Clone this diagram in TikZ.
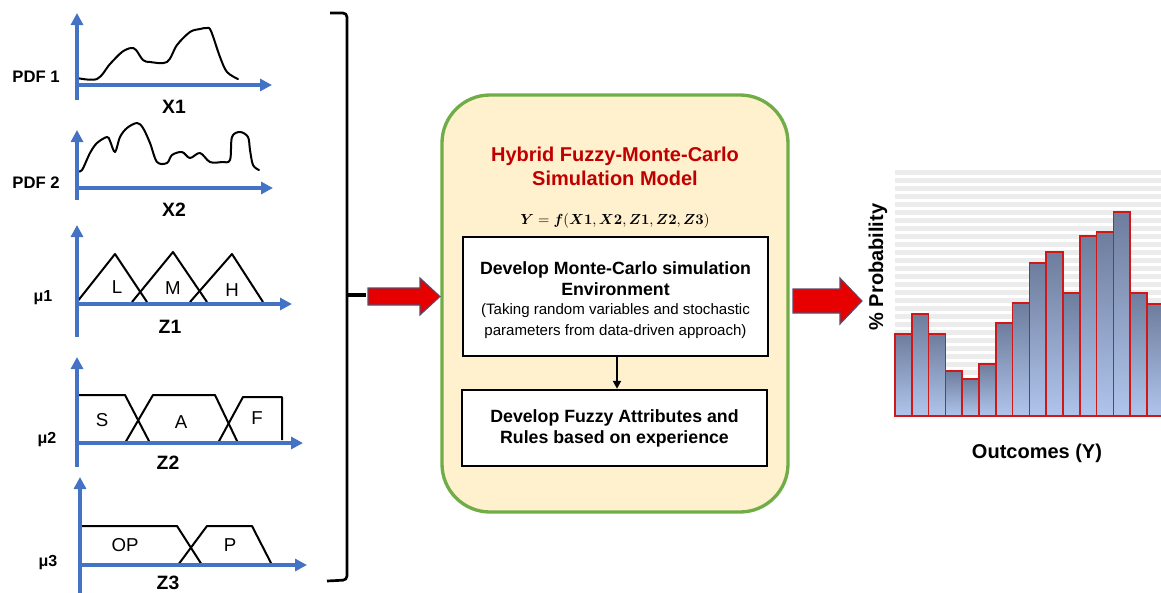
\documentclass[tikz,border=0pt]{standalone}
\usepackage[no-math]{fontspec}
\setmainfont{Liberation Sans}
\usepackage{bm}
\usetikzlibrary{arrows.meta}
\definecolor{axblue}{HTML}{4472C4}
\definecolor{boxgreen}{HTML}{70AD47}
\definecolor{boxfill}{HTML}{FFF0CE}
\definecolor{titlered}{HTML}{C00000}
\definecolor{arrred}{HTML}{E60000}
\definecolor{arredge}{HTML}{5A4A6E}
\definecolor{barred}{HTML}{D01818}
\definecolor{stripe}{HTML}{ECECEC}
\definecolor{bartop}{HTML}{6E7D9D}
\definecolor{barbot}{HTML}{B0C5EC}
\begin{document}
\begin{tikzpicture}[x=0.75pt,y=-0.75pt,
  blueaxis/.style={draw=axblue, line width=3pt, -{Triangle[length=9pt,width=9pt]}},
  curveline/.style={line width=1.5pt, line join=round, line cap=round},
  ylbl/.style={font=\fontsize{12.5}{14}\selectfont\bfseries, inner sep=0},
  mulbl/.style={font=\fontsize{12}{14}\selectfont\bfseries, inner sep=0},
  xlbl/.style={font=\fontsize{14.5}{16}\selectfont\bfseries, inner sep=0},
  setlbl/.style={font=\fontsize{14}{16}\selectfont, inner sep=0},
  mainbox/.style={draw=boxgreen, fill=boxfill, line width=2.5pt, rounded corners=36pt,
    minimum width=259.5pt, minimum height=312.75pt, inner sep=0},
  wbox/.style={draw=black, fill=white, line width=1.8pt, align=center, inner sep=0,
    font=\fontsize{13.3}{15.75}\selectfont\bfseries},
  boxtext/.style={align=center, inner sep=0, font=\fontsize{13.3}{15.75}\selectfont\bfseries},
  bigarrow/.style={fill=arrred, draw=arredge, line width=0.8pt, line join=miter},
  barstyle/.style={draw=barred, line width=1.2pt, top color=bartop, bottom color=barbot},
  axtitle/.style={font=\fontsize{15}{17}\selectfont\bfseries, inner sep=0}
]
\useasboundingbox (0,0) rectangle (1161,593);

% ---------- Plot 1 : PDF 1 ----------
\draw[curveline] plot[smooth, tension=0.55] coordinates {(77,78) (97,79) (110,64) (122,52) (131,48) (136,50) (143,60) (150,62) (167,62) (177,45) (190,32) (200,29) (207,28) (211,31) (220,57) (227,72) (238,79)};
\draw[blueaxis] (77,100) -- (77,13);
\draw[blueaxis] (77,85) -- (272,85);
\node[ylbl] (pdf1) at (36,77) {PDF 1};
\node[xlbl] (x1) at (174,107) {X1};

% ---------- Plot 2 : PDF 2 ----------
\draw[curveline] plot[smooth, tension=0.55] coordinates {(77,171) (82,170) (90,153) (97,143) (107,137) (110,141) (115,152) (120,137) (127,128) (137,123) (143,128) (150,143) (157,162) (167,163) (172,155) (182,152) (190,158) (200,153) (210,162) (222,162) (230,160) (232,137) (240,132) (248,137) (250,150) (253,165) (259,170)};
\draw[blueaxis] (77,200) -- (77,130);
\draw[blueaxis] (77,188) -- (273,188);
\node[ylbl] (pdf2) at (36,183) {PDF 2};
\node[xlbl] (x2) at (174,210) {X2};

% ---------- Plot 3 : Z1 ----------
\draw[curveline, line cap=butt] (77,302) -- (115,254) -- (147,302);
\draw[curveline, line cap=butt] (132,302) -- (173,252) -- (207,302);
\draw[curveline, line cap=butt] (190,302) -- (232,254) -- (263,302);
\draw[blueaxis] (77,337) -- (77,225);
\draw[blueaxis] (77,304) -- (292,304);
\node[setlbl] (L) at (117,287) {L};
\node[setlbl] (M) at (173,288) {M};
\node[setlbl] (H) at (232,290) {H};
\node[mulbl] (mu1) at (43,298) {μ1};
\node[xlbl] (z1) at (170,327) {Z1};

% ---------- Plot 4 : Z2 ----------
\draw[curveline, line cap=butt] (75,395) -- (125,395) -- (150,443);
\draw[curveline, line cap=butt] (125,443) -- (153,395) -- (215,395) -- (238,443);
\draw[curveline, line cap=butt] (218,443) -- (243,397) -- (282,397) -- (282,440);
\draw[blueaxis] (77,467) -- (77,357);
\draw[blueaxis] (77,443) -- (303,443);
\node[setlbl] (S) at (102,420) {S};
\node[setlbl] (A) at (181,422) {A};
\node[setlbl] (F) at (257,418) {F};
\node[mulbl] (mu2) at (47,440) {μ2};
\node[xlbl] (z2) at (168,463) {Z2};

% ---------- Plot 5 : Z3 ----------
\draw[curveline, line cap=butt] (82,526) -- (177,526) -- (202,565);
\draw[curveline, line cap=butt] (178,565) -- (207,526) -- (252,526) -- (272,565);
\draw[blueaxis] (80,600) -- (80,477);
\draw[blueaxis] (80,565) -- (307,565);
\node[setlbl] (OP) at (125,545) {OP};
\node[setlbl] (P) at (230,545) {P};
\node[mulbl] (mu3) at (48,563) {μ3};
\node[xlbl] (z3) at (168,583) {Z3};

% ---------- Bracket ----------
\draw[line width=2pt, rounded corners=3pt] (330,13) -- (347,13) -- (347,580) -- (327,581);
\coordinate (brk) at (347,295);
\coordinate (brktip) at (366,295);
\draw[line width=2.5pt] (brk) -- (brktip);

% ---------- Main box ----------
\node[mainbox] (main) at (615,303.5) {};
\node[font=\fontsize{15}{17.5}\selectfont\bfseries, text=titlered, align=center, inner sep=0] (title) at (615,166.5) {Hybrid Fuzzy-Monte-Carlo\\Simulation Model};
\node[font=\fontsize{10.5}{13}\selectfont, inner sep=0] (formula) at (615,221) {$\bm{Y} = \bm{f}(\bm{X}\mathbf{1}, \bm{X}\mathbf{2}, \bm{Z}\mathbf{1}, \bm{Z}\mathbf{2}, \bm{Z}\mathbf{3})$};

\node[wbox, minimum width=228.75pt, minimum height=89.25pt] (mc) at (615.5,296.5) {};
\node[boxtext] (mctxt) at (615.5,300)
  {Develop Monte-Carlo simulation\\
   Environment\\[-1pt]
   {\fontsize{11.3}{15}\selectfont\mdseries (Taking random variables and stochastic}\\
   {\fontsize{11.3}{15}\selectfont\mdseries parameters from data-driven approach)}};
\node[wbox, minimum width=228.75pt, minimum height=57pt] (fz) at (614.5,428)
  {Develop Fuzzy Attributes and\\
   Rules based on experience};
\draw[line width=1.5pt, -{Triangle[length=6pt,width=6pt]}] (mc.south -| 617,0) -- (fz.north -| 617,0);

% ---------- Red arrows ----------
\draw[bigarrow] (368,288) -- (420,288) -- (420,278) -- (440,296.5) -- (420,315) -- (420,305) -- (368,305) -- cycle;
\draw[bigarrow] (793,289) -- (840,289) -- (840,278) -- (862,301) -- (840,324) -- (840,313) -- (793,313) -- cycle;

% ---------- Histogram ----------
\foreach \k in {0,...,30} {
  \fill[stripe] (895,170+\k*8) rectangle (1161,175+\k*8);
}
\foreach \i/\t in {0/334,1/314,2/334,3/371,4/379,5/364,6/323,7/303,8/263,9/252,10/293,11/236,12/232,13/212,14/293,15/304} {
  \path[barstyle] (895+\i*16.8,\t) rectangle (911.8+\i*16.8,416);
}
\draw[barred, line width=1.5pt] (895,416) -- (1161,416);
\node[axtitle, rotate=90] (prob) at (878,267) {\% Probability};
\node[axtitle] (outc) at (1037,453) {Outcomes (Y)};
\end{tikzpicture}
\end{document}
